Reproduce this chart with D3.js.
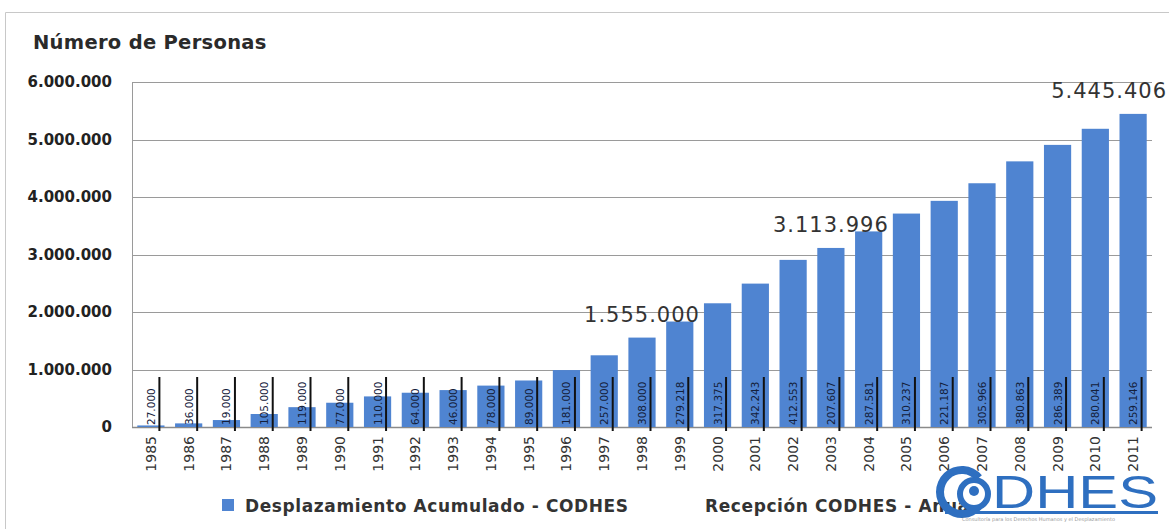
<!DOCTYPE html>
<html>
<head>
<meta charset="utf-8">
<script src="https://cdn.jsdelivr.net/npm/d3@7"></script>
<style>
  body { margin: 0; background: #fff; }
  svg { display: block; font-family: 'DejaVu Sans', sans-serif; }
</style>
</head>
<body>
<div id="chart"></div>
<script>
// --- datos ---
var years = ['1985', '1986', '1987', '1988', '1989', '1990', '1991', '1992', '1993', '1994',
  '1995', '1996', '1997', '1998', '1999', '2000', '2001', '2002', '2003', '2004',
  '2005', '2006', '2007', '2008', '2009', '2010', '2011'];
// Desplazamiento Acumulado - CODHES
var acumulado = [27000, 63000, 121000, 226000, 345000, 422000, 532000, 596000, 642000, 720000,
  809000, 990000, 1247000, 1555000, 1834218, 2151593, 2493836, 2906389, 3113996, 3401577,
  3711814, 3933001, 4238967, 4619830, 4906219, 5186260, 5445406];
// Recepción CODHES - Anual
var anual = [27000, 36000, 19000, 105000, 119000, 77000, 110000, 64000, 46000, 78000,
  89000, 181000, 257000, 308000, 279218, 317375, 342243, 412553, 207607, 287581,
  310237, 221187, 305966, 380863, 286389, 280041, 259146];
var destacados = ['1998', '2003', '2011'];
var yTicks = [0, 1000000, 2000000, 3000000, 4000000, 5000000, 6000000];
var legendLabels = ['Desplazamiento Acumulado - CODHES', 'Recepción CODHES - Anual'];

// --- dimensiones ---
var width = 1169, height = 529;
var plot = { left: 132, right: 1152, top: 82, bottom: 427 };
var barColor = '#4f84d1';

var es = d3.formatLocale({ decimal: ',', thousands: '.', grouping: [3], currency: ['', ''] });
var fmt = es.format(',d');

var svg = d3.select('#chart').append('svg')
  .attr('width', width)
  .attr('height', height);

// marco exterior
svg.append('path')
  .attr('d', 'M5.5,' + height + 'V12.5H' + width)
  .attr('fill', 'none')
  .attr('stroke', '#c8c8c8');

var x = d3.scaleBand()
  .domain(years)
  .range([plot.left, plot.right])
  .paddingInner(0.28)
  .paddingOuter(0.14);

var y = d3.scaleLinear()
  .domain([0, 6000000])
  .range([plot.bottom, plot.top]);

// lineas de cuadricula
svg.append('g').selectAll('line')
  .data(yTicks)
  .enter().append('line')
  .attr('x1', plot.left)
  .attr('x2', plot.right)
  .attr('y1', function(d) { return Math.round(y(d)) + 0.5; })
  .attr('y2', function(d) { return Math.round(y(d)) + 0.5; })
  .attr('stroke', function(d) { return d === 0 ? '#8a8a8a' : '#9a9a9a'; })
  .attr('stroke-width', function(d) { return d === 0 ? 1.5 : 1; });

svg.append('line')
  .attr('x1', plot.left + 0.5).attr('x2', plot.left + 0.5)
  .attr('y1', plot.top).attr('y2', plot.bottom)
  .attr('stroke', '#9a9a9a');

// eje y
svg.append('g').selectAll('text')
  .data(yTicks)
  .enter().append('text')
  .attr('x', 112)
  .attr('y', function(d) { return y(d); })
  .attr('dy', '0.36em')
  .attr('text-anchor', 'end')
  .attr('font-size', '15px')
  .attr('font-weight', 'bold')
  .attr('fill', '#222')
  .text(function(d) { return fmt(d); });

// titulo del eje
svg.append('text')
  .attr('x', 33)
  .attr('y', 49)
  .attr('font-size', '19.5px')
  .attr('font-weight', 'bold')
  .attr('letter-spacing', '0.3px')
  .attr('fill', '#2a2a2a')
  .text('Número de Personas');

// barras acumuladas
svg.append('g').selectAll('rect')
  .data(years)
  .enter().append('rect')
  .attr('x', function(d) { return x(d); })
  .attr('width', x.bandwidth())
  .attr('y', function(d, i) { return y(acumulado[i]); })
  .attr('height', function(d, i) { return y(0) - y(acumulado[i]); })
  .attr('fill', barColor);

// etiquetas anuales (texto vertical subrayado)
var anualG = svg.append('g').selectAll('g')
  .data(years)
  .enter().append('g')
  .attr('transform', function(d) {
    return 'translate(' + (x(d) + x.bandwidth() / 2) + ',' + y(0) + ')';
  });
anualG.append('line')
  .attr('x1', 8.5).attr('x2', 8.5)
  .attr('y1', 4).attr('y2', -50)
  .attr('stroke', '#111')
  .attr('stroke-width', 2);
anualG.append('text')
  .attr('transform', 'translate(4,-2) rotate(-90)')
  .attr('font-size', '10.5px')
  .attr('fill', '#14203a')
  .text(function(d, i) { return fmt(anual[i]); });

// etiquetas del eje x
svg.append('g').selectAll('text')
  .data(years)
  .enter().append('text')
  .attr('transform', function(d) {
    return 'translate(' + (x(d) + x.bandwidth() / 2) + ',' + (plot.bottom + 9) + ') rotate(-90)';
  })
  .attr('dy', '0.36em')
  .attr('text-anchor', 'end')
  .attr('font-size', '14px')
  .attr('fill', '#333')
  .text(function(d) { return d; });

// valores destacados
svg.append('g').selectAll('text')
  .data(destacados)
  .enter().append('text')
  .attr('x', function(d) {
    var cx = x(d) + x.bandwidth() / 2;
    return d === '2011' ? cx - 24 : cx;
  })
  .attr('y', function(d) { return y(acumulado[years.indexOf(d)]) - 16; })
  .attr('text-anchor', 'middle')
  .attr('font-size', '21px')
  .attr('letter-spacing', '1px')
  .attr('fill', '#333')
  .text(function(d) { return fmt(acumulado[years.indexOf(d)]); });

// leyenda
var legend = svg.append('g')
  .attr('font-size', '17px')
  .attr('font-weight', 'bold')
  .attr('letter-spacing', '0.6px')
  .attr('fill', '#333');
legend.append('rect')
  .attr('x', 222).attr('y', 499)
  .attr('width', 12).attr('height', 12)
  .attr('fill', barColor);
legend.append('text').attr('x', 245).attr('y', 512).text(legendLabels[0]);
legend.append('text').attr('x', 705).attr('y', 512).text(legendLabels[1]);

// logo CODHES
var logo = svg.append('g').attr('fill', '#2e6fc0');
logo.append('path')
  .attr('d', d3.arc()({ innerRadius: 18, outerRadius: 26, startAngle: Math.PI / 2 + 0.7, endAngle: Math.PI * 2.5 - 0.7 }))
  .attr('transform', 'translate(962,492)');
logo.append('circle')
  .attr('cx', 974).attr('cy', 494).attr('r', 14)
  .attr('fill', '#fff').attr('stroke', '#2e6fc0').attr('stroke-width', 6);
logo.append('circle')
  .attr('cx', 974).attr('cy', 491).attr('r', 5);
logo.append('text')
  .attr('x', 992).attr('y', 508)
  .attr('font-size', '46px')
  .attr('font-family', 'Liberation Sans, sans-serif')
  .attr('textLength', 166)
  .attr('lengthAdjust', 'spacingAndGlyphs')
  .text('DHES');
logo.append('rect')
  .attr('x', 945).attr('y', 511).attr('width', 213).attr('height', 3);
svg.append('text')
  .attr('x', 962).attr('y', 521)
  .attr('font-size', '5px')
  .attr('fill', '#999')
  .text('Consultoría para los Derechos Humanos y el Desplazamiento');
</script>
</body>
</html>
